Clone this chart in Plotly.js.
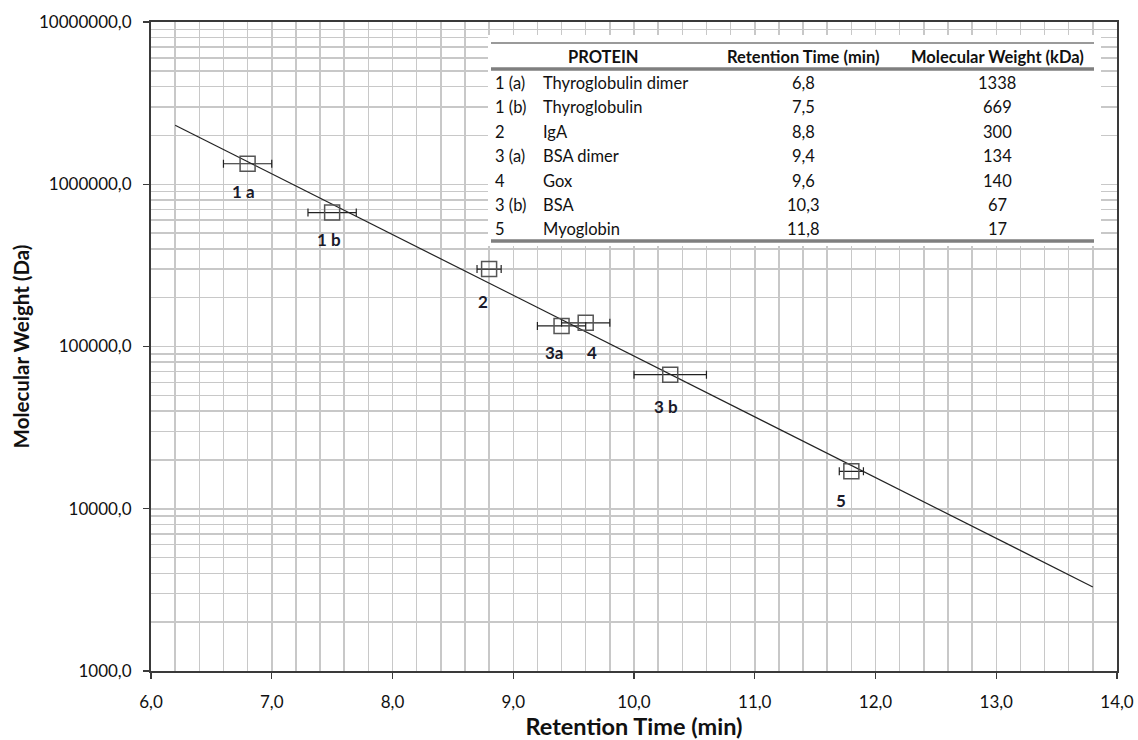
<!DOCTYPE html>
<html>
<head>
<meta charset="utf-8">
<script src="https://cdn.plot.ly/plotly-3.0.1.min.js"></script>
<style>
  html, body { margin: 0; padding: 0; background: #fff; }
  #chart { width: 1138px; height: 740px; }
</style>
</head>
<body>
<div id="chart"></div>
<script>
// Calibration standards: ids, names, retention times (min) and molecular weights (kDa)
const proteinIds   = ['1 (a)', '1 (b)', '2', '3 (a)', '4', '3 (b)', '5'];
const proteinNames = ['Thyroglobulin dimer', 'Thyroglobulin', 'IgA', 'BSA dimer', 'Gox', 'BSA', 'Myoglobin'];
const retentionMin = [6.8, 7.5, 8.8, 9.4, 9.6, 10.3, 11.8];
const weightKDa    = [1338, 669, 300, 134, 140, 67, 17];
const retentionErr = [0.2, 0.2, 0.1, 0.2, 0.2, 0.3, 0.1];
const pointLabels  = ['1 a', '1 b', '2', '3a', '4', '3 b', '5'];

// Axis ticks
const xTickVals = [6, 7, 8, 9, 10, 11, 12, 13, 14];
const yTickVals = [1e3, 1e4, 1e5, 1e6, 1e7];
const fitRange  = [6.2, 13.8];

const fmt = v => v.toFixed(1).replace('.', ',');
const xTickText = xTickVals.map(fmt);
const yTickText = yTickVals.map(fmt);

// minor log gridlines at 2..9 of each decade
const yMinorVals = [];
for (let e = 3; e < 7; e++) for (let m = 2; m <= 9; m++) yMinorVals.push(m * Math.pow(10, e));

const weightDa = weightKDa.map(v => v * 1000);

// least-squares fit of log10(MW) against retention time
const lg = weightDa.map(v => Math.log10(v));
const n = retentionMin.length;
const mx = retentionMin.reduce((a, b) => a + b, 0) / n;
const my = lg.reduce((a, b) => a + b, 0) / n;
let sxy = 0, sxx = 0;
for (let i = 0; i < n; i++) { sxy += (retentionMin[i] - mx) * (lg[i] - my); sxx += (retentionMin[i] - mx) ** 2; }
const slope = sxy / sxx, icept = my - slope * mx;
const fitY = fitRange.map(x => Math.pow(10, icept + slope * x));

const FONT = 'Lato, "Open Sans", sans-serif';

const traces = [
  {
    x: fitRange, y: fitY, type: 'scatter', mode: 'lines',
    line: { color: '#222', width: 1.2 }, hoverinfo: 'skip', showlegend: false
  },
  {
    x: retentionMin, y: weightDa, type: 'scatter', mode: 'markers',
    marker: { symbol: 'square-open', size: 15, color: '#555', line: { width: 1.5, color: '#555' } },
    error_x: { type: 'data', array: retentionErr, visible: true, color: '#222', thickness: 1.2, width: 4 },
    showlegend: false
  }
];

// plot area in pixels, used to place the inset table
const PL = 151, PR = 1117, PT = 22, PB = 671;
const X0 = 6, X1 = 14, LY0 = 3, LY1 = 7;
const fx = px => (px - PL) / (PR - PL);
const fy = py => (PB - py) / (PB - PT);
const dataX = px => X0 + fx(px) * (X1 - X0);
const dataY = py => Math.pow(10, LY0 + fy(py) * (LY1 - LY0));

// point label nudges (px)
const labelShift = [[-4, -28], [-3, -27], [-6, -32], [-7, -27], [6, -30], [-4, -32], [-10, -29]];

const annotations = [];
pointLabels.forEach((t, i) => {
  annotations.push({
    x: retentionMin[i], y: Math.log10(weightDa[i]), xref: 'x', yref: 'y',
    text: '<b>' + t + '</b>', showarrow: false,
    xshift: labelShift[i][0], yshift: labelShift[i][1],
    font: { family: FONT, size: 17, color: '#1a1a2a' }
  });
});

// inset table
const colId = 493, colName = 541, colRT = 803, colMW = 997;
const headerY = 57;
const rowY0 = 83, rowStep = 24.4;
const tFont = { family: FONT, size: 16.5, color: '#111' };
const hFont = { family: FONT, size: 16.5, color: '#111' };

const cell = (px, py, text, anchor, font) => ({
  x: fx(px), y: fy(py), xref: 'paper', yref: 'paper', text: text, showarrow: false,
  xanchor: anchor, yanchor: 'middle', font: font
});

annotations.push(cell(603, headerY, '<b>PROTEIN</b>', 'center', hFont));
annotations.push(cell(colRT, headerY, '<b>Retention Time (min)</b>', 'center', hFont));
annotations.push(cell(colMW, headerY, '<b>Molecular Weight (kDa)</b>', 'center', hFont));
proteinIds.forEach((id, i) => {
  const y = rowY0 + i * rowStep;
  annotations.push(cell(colId, y, id, 'left', tFont));
  annotations.push(cell(colName, y, proteinNames[i], 'left', tFont));
  annotations.push(cell(colRT, y, fmt(retentionMin[i]), 'center', tFont));
  annotations.push(cell(colMW, y, String(weightKDa[i]), 'center', tFont));
});

const rule = (py, color, w) => ({
  type: 'line', xref: 'paper', yref: 'paper', layer: 'above',
  x0: fx(491), x1: fx(1094), y0: fy(py), y1: fy(py), line: { color: color, width: w }
});

const shapes = [
  // white panel behind the table, covering the gridlines
  { type: 'rect', xref: 'x', yref: 'y', layer: 'between',
    x0: dataX(488), x1: dataX(1101), y0: dataY(246), y1: dataY(35),
    fillcolor: '#ffffff', line: { width: 0 } },
  rule(43, '#9a9a9a', 2),
  rule(69, '#7f7f7f', 3.5),
  rule(241, '#7f7f7f', 3.5)
];

const GRID = '#c8c8c8';

const layout = {
  width: 1138, height: 740,
  margin: { l: PL, r: 1138 - PR, t: PT, b: 740 - PB, pad: 0 },
  paper_bgcolor: '#fff', plot_bgcolor: '#fff',
  font: { family: FONT, color: '#111' },
  showlegend: false,
  xaxis: {
    range: [X0, X1], tickmode: 'array', tickvals: xTickVals, ticktext: xTickText,
    showgrid: true, gridcolor: GRID, gridwidth: 1.5,
    minor: { dtick: 0.2, tick0: 6, showgrid: true, gridcolor: GRID, gridwidth: 1.5, ticks: '' },
    showline: true, linecolor: '#3a3a3a', linewidth: 2, mirror: true,
    ticks: 'outside', ticklen: 6, tickwidth: 1.2, tickcolor: '#3a3a3a',
    tickfont: { family: FONT, size: 17, color: '#111' }, ticklabelstandoff: 9,
    zeroline: false,
    title: { text: '<b>Retention Time (min)</b>', font: { family: FONT, size: 23.5, color: '#111' }, standoff: 8 }
  },
  yaxis: {
    type: 'log', range: [LY0, LY1], tickmode: 'array', tickvals: yTickVals, ticktext: yTickText,
    showgrid: true, gridcolor: GRID, gridwidth: 1.5,
    minor: { tickmode: 'array', tickvals: yMinorVals, showgrid: true, gridcolor: GRID, gridwidth: 1.5, ticks: '' },
    showline: true, linecolor: '#3a3a3a', linewidth: 2, mirror: true,
    ticks: 'outside', ticklen: 6, tickwidth: 1.2, tickcolor: '#3a3a3a',
    tickfont: { family: FONT, size: 17, color: '#111' }, ticklabelstandoff: 8,
    zeroline: false,
    title: { text: '<b>Molecular Weight (Da)</b>', font: { family: FONT, size: 20.5, color: '#111' }, standoff: 4 }
  },
  shapes: shapes,
  annotations: annotations
};

Plotly.newPlot('chart', traces, layout, { displayModeBar: false, staticPlot: true });
</script>
</body>
</html>
